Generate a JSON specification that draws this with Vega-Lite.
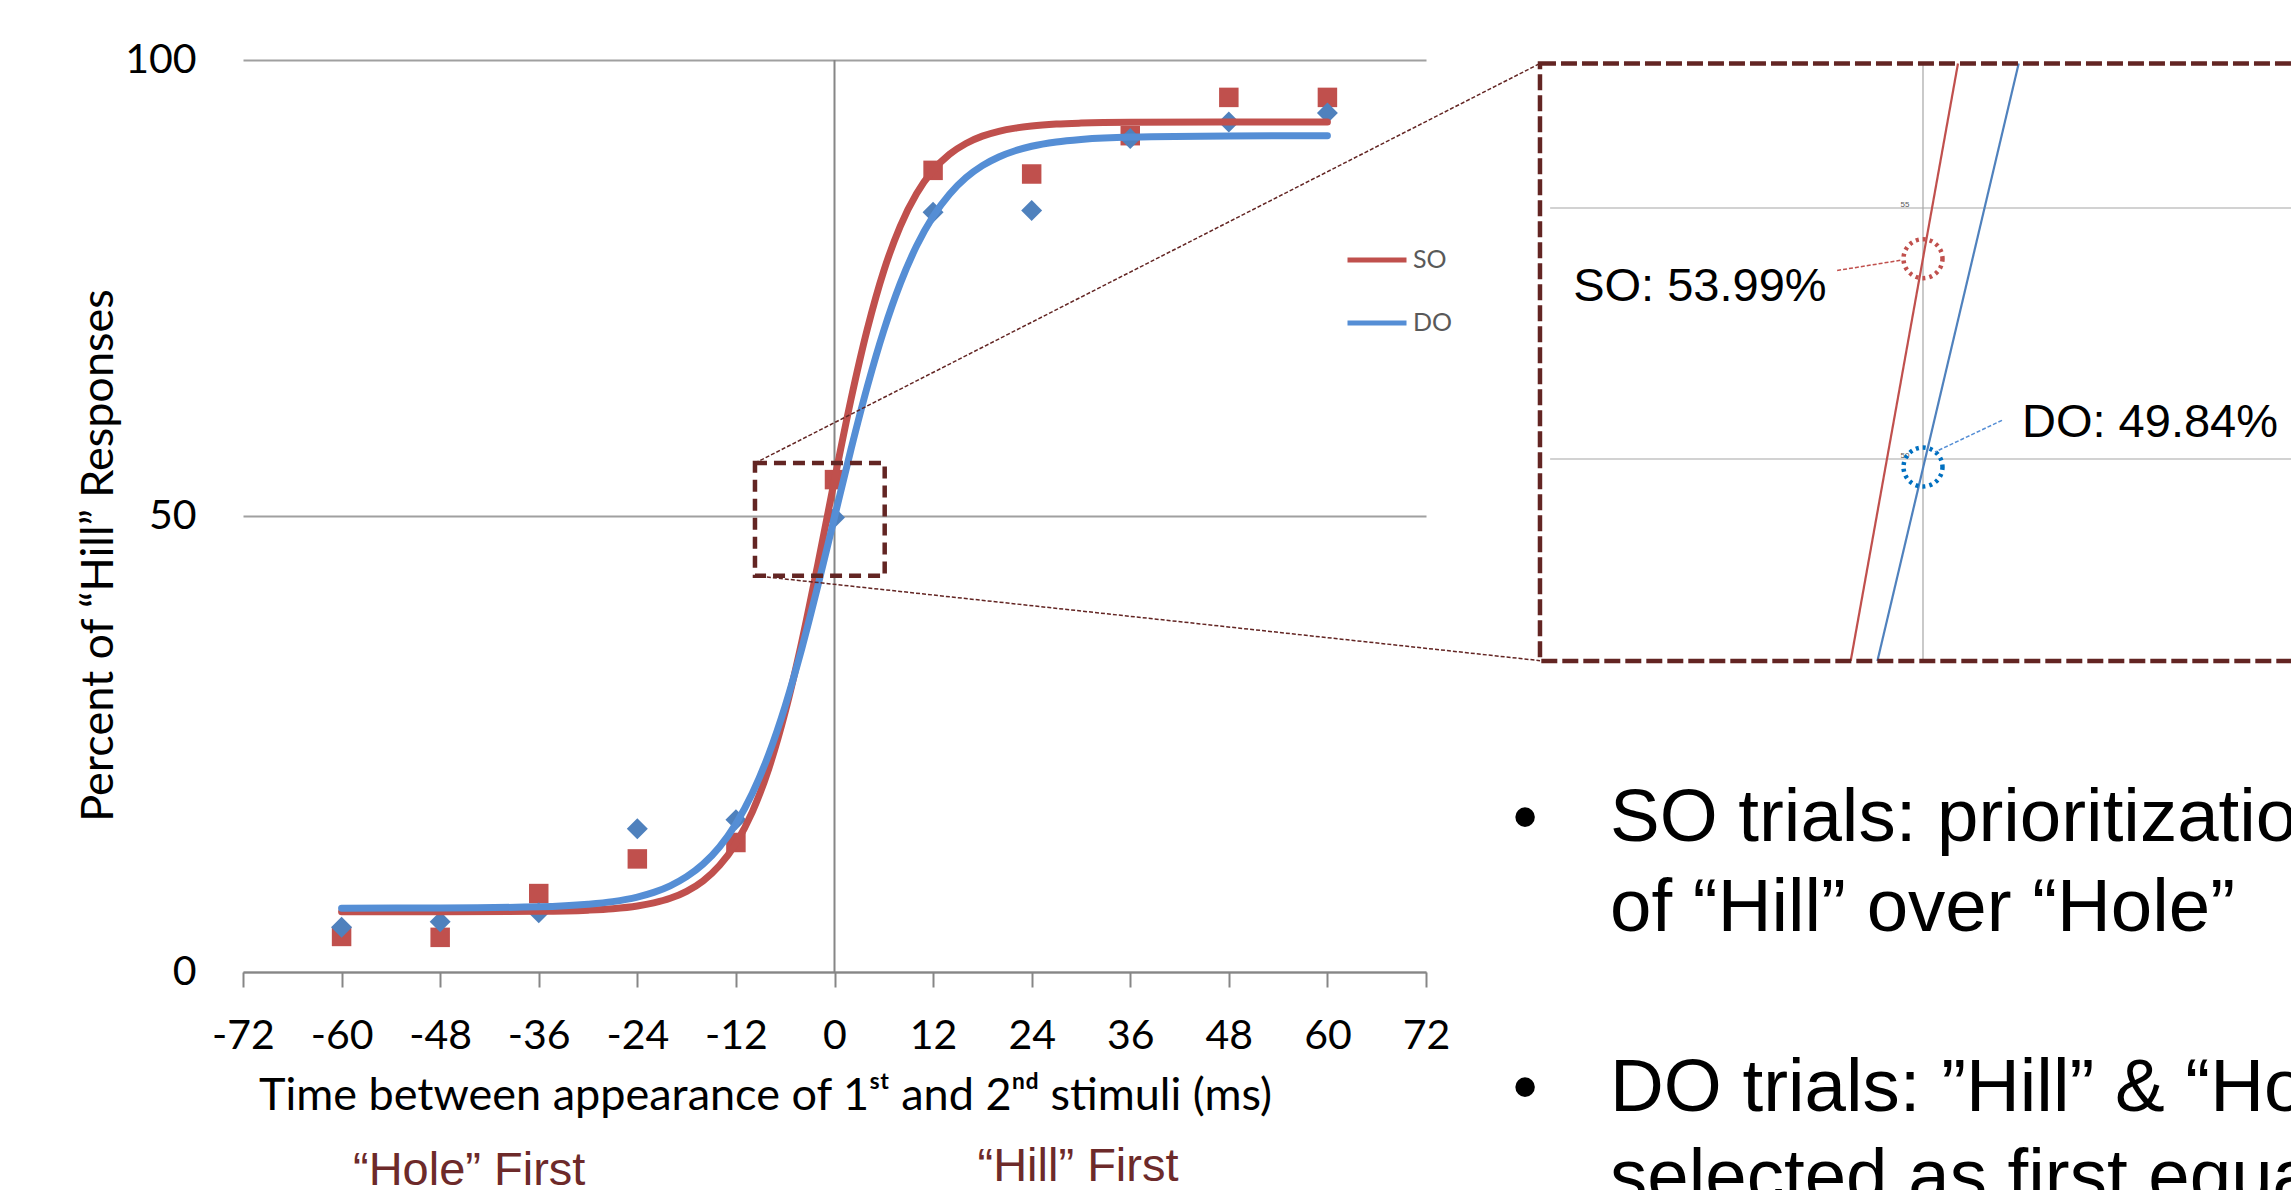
{
  "$schema": "https://vega.github.io/schema/vega-lite/v6.json",
  "width": 1183,
  "height": 912,
  "autosize": {"type": "none"},
  "padding": {"left": 243, "top": 60, "right": 865, "bottom": 218},
  "background": "white",
  "config": {"view": {"stroke": null}, "font": "Lato"},
  "layer": [
    {
      "encoding": {
        "x": {"field": "x", "type": "quantitative",
          "scale": {"domain": [-72, 72], "nice": false, "zero": false},
          "axis": {
            "values": [-72, -60, -48, -36, -24, -12, 0, 12, 24, 36, 48, 60, 72],
            "labelExpr": "datum.value < 0 ? '-' + abs(datum.value) : '' + datum.value",
            "title": "Time between appearance of 1ˢᵗ and 2ⁿᵈ stimuli (ms)",
            "titleX": 522, "titleY": 137, "titleAlign": "center", "titleBaseline": "alphabetic",
            "titleFont": "Lato", "titleFontSize": 45, "titleFontWeight": "normal", "titleColor": "black",
            "labelFont": "Lato", "labelFontSize": 41, "labelColor": "black", "labelPadding": 29,
            "tickSize": 15, "tickWidth": 2, "tickColor": "#868686",
            "domainColor": "#868686", "domainWidth": 2, "grid": false,
            "labelFlush": false, "labelOverlap": false
          }},
        "y": {"field": "y", "type": "quantitative",
          "scale": {"domain": [0, 100], "nice": false, "zero": false},
          "axis": {
            "values": [0, 50, 100], "grid": true, "gridColor": "#A0A0A0", "gridWidth": 2,
            "domain": false, "ticks": false, "labelPadding": 47,
            "labelFont": "Lato", "labelFontSize": 41, "labelColor": "black", "labelFlush": false,
            "title": "Percent of “Hill” Responses",
            "titleX": -145, "titleY": 495, "titleAngle": 270, "titleAlign": "center", "titleBaseline": "middle",
            "titleFont": "Lato", "titleFontSize": 45, "titleFontWeight": "normal", "titleColor": "black"
          }}
      },
      "layer": [
        {
          "data": {"values": [{"x": 0, "y": 0, "y2": 100}]},
          "mark": {"type": "rule", "color": "#868686", "strokeWidth": 2},
          "encoding": {"y2": {"field": "y2"}}
        },
        {
          "data": {"values": [
            {"x": -60, "y": 3.9}, {"x": -48, "y": 3.8}, {"x": -36, "y": 8.6}, {"x": -24, "y": 12.4},
            {"x": -12, "y": 14.2}, {"x": 0, "y": 53.99}, {"x": 12, "y": 87.9}, {"x": 24, "y": 87.5},
            {"x": 36, "y": 91.7}, {"x": 48, "y": 95.9}, {"x": 60, "y": 95.9}
          ]},
          "mark": {"type": "point", "shape": "square", "filled": true, "size": 380, "color": "#C0504D", "opacity": 1}
        },
        {
          "data": {"values": [
            {"x": -60, "y": 4.9}, {"x": -48, "y": 5.5}, {"x": -36, "y": 6.5}, {"x": -24, "y": 15.7},
            {"x": -12, "y": 16.7}, {"x": 0, "y": 49.84}, {"x": 12, "y": 83.3}, {"x": 24, "y": 83.5},
            {"x": 36, "y": 91.4}, {"x": 48, "y": 93.2}, {"x": 60, "y": 94.2}
          ]},
          "mark": {"type": "point", "shape": "diamond", "filled": true, "size": 440, "color": "#4F81BD", "opacity": 1}
        },
        {
          "data": {"values": [
            {"series": "SO", "x": -60, "y": 6.6}, {"series": "SO", "x": -48, "y": 6.6}, {"series": "SO", "x": -36, "y": 6.65},
            {"series": "SO", "x": -30, "y": 6.78}, {"series": "SO", "x": -27, "y": 6.94}, {"series": "SO", "x": -24, "y": 7.24},
            {"series": "SO", "x": -22, "y": 7.58}, {"series": "SO", "x": -20, "y": 8.08}, {"series": "SO", "x": -18, "y": 8.85},
            {"series": "SO", "x": -16, "y": 9.99}, {"series": "SO", "x": -14, "y": 11.67}, {"series": "SO", "x": -12, "y": 14.11},
            {"series": "SO", "x": -10, "y": 17.56}, {"series": "SO", "x": -8, "y": 22.31}, {"series": "SO", "x": -6, "y": 28.51},
            {"series": "SO", "x": -4, "y": 36.13}, {"series": "SO", "x": -2, "y": 44.83}, {"series": "SO", "x": 0, "y": 53.97},
            {"series": "SO", "x": 2, "y": 62.76}, {"series": "SO", "x": 4, "y": 70.51}, {"series": "SO", "x": 6, "y": 76.88},
            {"series": "SO", "x": 8, "y": 81.77}, {"series": "SO", "x": 10, "y": 85.36}, {"series": "SO", "x": 12, "y": 87.9},
            {"series": "SO", "x": 14, "y": 89.66}, {"series": "SO", "x": 16, "y": 90.85}, {"series": "SO", "x": 18, "y": 91.65},
            {"series": "SO", "x": 20, "y": 92.18}, {"series": "SO", "x": 22, "y": 92.53}, {"series": "SO", "x": 24, "y": 92.76},
            {"series": "SO", "x": 27, "y": 92.97}, {"series": "SO", "x": 30, "y": 93.08}, {"series": "SO", "x": 36, "y": 93.17},
            {"series": "SO", "x": 48, "y": 93.2}, {"series": "SO", "x": 60, "y": 93.2},
            {"series": "DO", "x": -60, "y": 7.0}, {"series": "DO", "x": -48, "y": 7.02}, {"series": "DO", "x": -36, "y": 7.15},
            {"series": "DO", "x": -30, "y": 7.43}, {"series": "DO", "x": -27, "y": 7.72}, {"series": "DO", "x": -24, "y": 8.22},
            {"series": "DO", "x": -22, "y": 8.73}, {"series": "DO", "x": -20, "y": 9.45}, {"series": "DO", "x": -18, "y": 10.45},
            {"series": "DO", "x": -16, "y": 11.82}, {"series": "DO", "x": -14, "y": 13.71}, {"series": "DO", "x": -12, "y": 16.25},
            {"series": "DO", "x": -10, "y": 19.59}, {"series": "DO", "x": -8, "y": 23.88}, {"series": "DO", "x": -6, "y": 29.17},
            {"series": "DO", "x": -4, "y": 35.42}, {"series": "DO", "x": -2, "y": 42.44}, {"series": "DO", "x": 0, "y": 49.87},
            {"series": "DO", "x": 2, "y": 57.28}, {"series": "DO", "x": 4, "y": 64.21}, {"series": "DO", "x": 6, "y": 70.34},
            {"series": "DO", "x": 8, "y": 75.48}, {"series": "DO", "x": 10, "y": 79.63}, {"series": "DO", "x": 12, "y": 82.86},
            {"series": "DO", "x": 14, "y": 85.29}, {"series": "DO", "x": 16, "y": 87.1}, {"series": "DO", "x": 18, "y": 88.42},
            {"series": "DO", "x": 20, "y": 89.37}, {"series": "DO", "x": 22, "y": 90.05}, {"series": "DO", "x": 24, "y": 90.54},
            {"series": "DO", "x": 27, "y": 91.01}, {"series": "DO", "x": 30, "y": 91.29}, {"series": "DO", "x": 36, "y": 91.56},
            {"series": "DO", "x": 48, "y": 91.68}, {"series": "DO", "x": 60, "y": 91.7}
          ]},
          "mark": {"type": "line", "strokeWidth": 7, "interpolate": "monotone", "strokeCap": "round"},
          "encoding": {
            "color": {"field": "series", "type": "nominal",
              "scale": {"domain": ["SO", "DO"], "range": ["#C0504D", "#558ED5"]},
              "sort": ["SO", "DO"],
              "legend": {"orient": "none", "legendX": 1102, "legendY": 168, "title": null,
                "symbolType": "stroke", "symbolSize": 3481, "symbolStrokeWidth": 5,
                "labelFont": "Lato", "labelFontSize": 25, "labelColor": "#595959",
                "labelOffset": 4, "rowPadding": 18, "padding": 0}}
          }
        },
        {
          "data": {"values": [{"x": -9.68, "x2": 6.11, "y": 43.45, "y2": 55.8}]},
          "mark": {"type": "rect", "filled": false, "stroke": "#632523", "strokeWidth": 4.5, "strokeDash": [12, 7]},
          "encoding": {"x2": {"field": "x2"}, "y2": {"field": "y2"}}
        },
        {
          "data": {"values": [
            {"x": -9.68, "y": 55.8, "x2": 85.88, "y2": 99.62},
            {"x": -9.68, "y": 43.45, "x2": 85.88, "y2": 34.14}
          ]},
          "mark": {"type": "rule", "color": "#632523", "strokeWidth": 1.5, "strokeDash": [4, 2]},
          "encoding": {"x2": {"field": "x2"}, "y2": {"field": "y2"}}
        },
        {
          "data": {"values": [
            {"x": -44.47, "y": -23.4, "t": "“Hole” First"},
            {"x": 29.64, "y": -22.96, "t": "“Hill” First"}
          ]},
          "mark": {"type": "text", "align": "center", "baseline": "alphabetic", "font": "Liberation Sans", "fontSize": 47, "color": "#6D2A2A"},
          "encoding": {"text": {"field": "t"}}
        },
        {
          "data": {"values": [
            {"x": 84.05, "y": 14.33, "t": "•"},
            {"x": 84.05, "y": -15.25, "t": "•"}
          ]},
          "mark": {"type": "text", "align": "center", "baseline": "alphabetic", "font": "Liberation Sans", "fontSize": 72, "color": "black"},
          "encoding": {"text": {"field": "t"}}
        },
        {
          "data": {"values": [
            {"x": 94.4, "y": 14.33, "t": "SO trials: prioritization"},
            {"x": 94.4, "y": 4.47, "t": "of “Hill” over “Hole”"},
            {"x": 94.4, "y": -15.25, "t": "DO trials: ”Hill” & “Hole” are"},
            {"x": 94.4, "y": -25.12, "t": "selected as first equally often"}
          ]},
          "mark": {"type": "text", "align": "left", "baseline": "alphabetic", "font": "Liberation Sans", "fontSize": 74.5, "color": "black"},
          "encoding": {"text": {"field": "t"}}
        }
      ]
    },
    {
      "encoding": {
        "x": {"field": "x", "type": "quantitative",
          "scale": {"domain": [0, 1], "range": [1680, 1725.2], "nice": false, "zero": false}, "axis": null},
        "y": {"field": "y", "type": "quantitative",
          "scale": {"domain": [50, 55], "range": [399, 148], "nice": false, "zero": false}, "axis": null}
      },
      "layer": [
        {
          "data": {"values": [{"x": -8.25, "x2": 9.5, "y": 55}, {"x": -8.25, "x2": 9.5, "y": 50}]},
          "mark": {"type": "rule", "color": "#A6A6A6", "strokeWidth": 1.2},
          "encoding": {"x2": {"field": "x2"}}
        },
        {
          "data": {"values": [{"x": 0, "y": 45.976, "y2": 57.878}]},
          "mark": {"type": "rule", "color": "#A6A6A6", "strokeWidth": 1.2},
          "encoding": {"y2": {"field": "y2"}}
        },
        {
          "data": {"values": [{"x": -0.4, "y": 55.05, "t": "55"}, {"x": -0.4, "y": 50.05, "t": "50"}]},
          "mark": {"type": "text", "align": "center", "baseline": "middle", "font": "Liberation Sans", "fontSize": 8, "color": "#595959"},
          "encoding": {"text": {"field": "t"}}
        },
        {
          "data": {"values": [
            {"series": "SO", "x": -1.6, "y": 45.976}, {"series": "SO", "x": 0.774, "y": 57.878},
            {"series": "DO", "x": -1.009, "y": 45.976}, {"series": "DO", "x": 2.117, "y": 57.878}
          ]},
          "mark": {"type": "line", "strokeWidth": 2.2},
          "encoding": {"color": {"field": "series", "type": "nominal",
            "scale": {"domain": ["SO", "DO"], "range": ["#C0504D", "#4F81BD"]}, "legend": null}}
        },
        {
          "data": {"values": [{"x": 0, "y": 53.99}]},
          "mark": {"type": "point", "shape": "circle", "filled": false, "size": 1520, "strokeWidth": 4.5, "strokeDash": [3, 4], "color": "#C0504D", "opacity": 1}
        },
        {
          "data": {"values": [{"x": 0, "y": 49.84}]},
          "mark": {"type": "point", "shape": "circle", "filled": false, "size": 1520, "strokeWidth": 4.5, "strokeDash": [3, 4], "color": "#0070C0", "opacity": 1}
        },
        {
          "data": {"values": [{"x": -1.9, "y": 53.755, "x2": -0.487, "y2": 53.96}]},
          "mark": {"type": "rule", "color": "#C0504D", "strokeWidth": 1.5, "strokeDash": [4, 2]},
          "encoding": {"x2": {"field": "x2"}, "y2": {"field": "y2"}}
        },
        {
          "data": {"values": [{"x": 1.748, "y": 50.77, "x2": 0.265, "y2": 50.14}]},
          "mark": {"type": "rule", "color": "#558ED5", "strokeWidth": 1.5, "strokeDash": [4, 2]},
          "encoding": {"x2": {"field": "x2"}, "y2": {"field": "y2"}}
        },
        {
          "data": {"values": [{"x": -7.74, "y": 53.15, "t": "SO: 53.99%"}, {"x": 2.19, "y": 50.43, "t": "DO: 49.84%"}]},
          "mark": {"type": "text", "align": "left", "baseline": "alphabetic", "font": "Liberation Sans", "fontSize": 47, "color": "black"},
          "encoding": {"text": {"field": "t"}}
        },
        {
          "data": {"values": [{"x": -8.474, "x2": 9.5, "y": 45.976, "y2": 57.878}]},
          "mark": {"type": "rect", "filled": false, "stroke": "#632523", "strokeWidth": 4.5, "strokeDash": [16, 5]},
          "encoding": {"x2": {"field": "x2"}, "y2": {"field": "y2"}}
        }
      ]
    }
  ],
  "resolve": {
    "scale": {"x": "independent", "y": "independent", "color": "independent"},
    "axis": {"x": "independent", "y": "independent"}
  }
}
